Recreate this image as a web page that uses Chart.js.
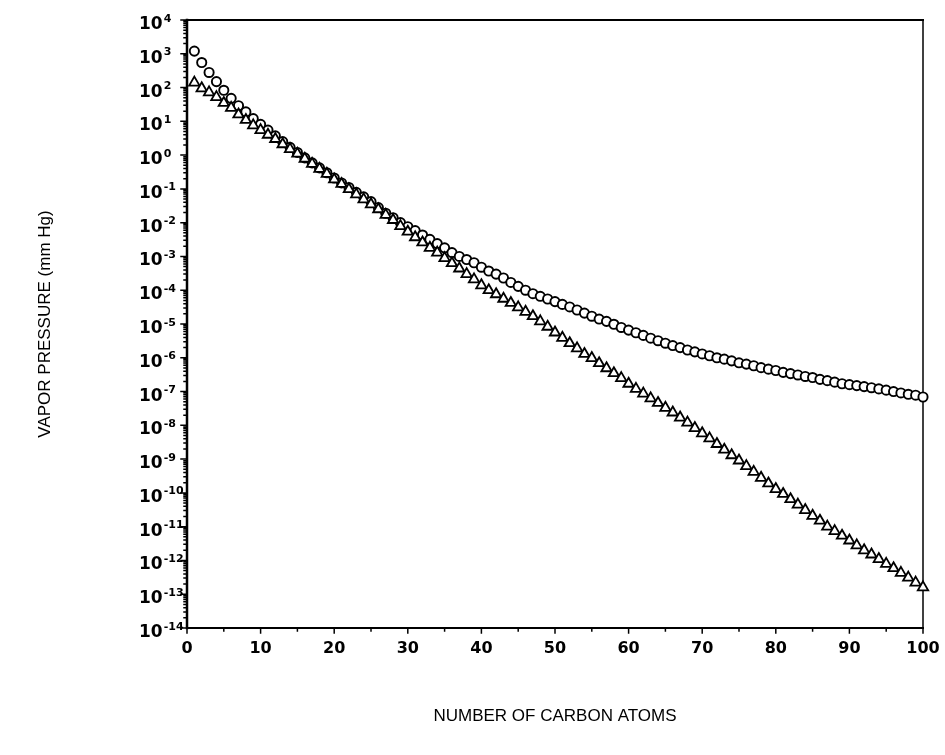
<!DOCTYPE html>
<html>
<head>
<meta charset="utf-8">
<script src="https://cdn.jsdelivr.net/npm/chart.js@4.4.1/dist/chart.umd.min.js"></script>
<style>
    html, body { margin: 0; padding: 0; background: #fff; }
    #wrap { width: 945px; height: 755px; }
</style>
</head>
<body>
<div id="wrap"><canvas id="vaporChart" width="945" height="755"></canvas></div>
<script>
// Data
const carbonAtoms = [
    1, 2, 3, 4, 5, 6, 7, 8, 9, 10,
    11, 12, 13, 14, 15, 16, 17, 18, 19, 20,
    21, 22, 23, 24, 25, 26, 27, 28, 29, 30,
    31, 32, 33, 34, 35, 36, 37, 38, 39, 40,
    41, 42, 43, 44, 45, 46, 47, 48, 49, 50,
    51, 52, 53, 54, 55, 56, 57, 58, 59, 60,
    61, 62, 63, 64, 65, 66, 67, 68, 69, 70,
    71, 72, 73, 74, 75, 76, 77, 78, 79, 80,
    81, 82, 83, 84, 85, 86, 87, 88, 89, 90,
    91, 92, 93, 94, 95, 96, 97, 98, 99, 100
];

// open circles
const circleVapor = [
    1.2e3, 5.5e2, 2.8e2, 1.5e2, 8.3e1, 4.8e1, 2.9e1, 1.9e1, 1.2e1, 8.1,
    5.5, 3.7, 2.5, 1.7, 1.2, 8.3e-1, 5.9e-1, 4.2e-1, 3.0e-1, 2.1e-1,
    1.5e-1, 1.1e-1, 7.9e-2, 5.8e-2, 4.2e-2, 2.8e-2, 1.9e-2, 1.4e-2, 1.0e-2, 7.6e-3,
    5.8e-3, 4.3e-3, 3.2e-3, 2.4e-3, 1.8e-3, 1.3e-3, 1.0e-3, 8.1e-4, 6.5e-4, 4.8e-4,
    3.7e-4, 3.0e-4, 2.3e-4, 1.7e-4, 1.3e-4, 1.0e-4, 7.9e-5, 6.6e-5, 5.5e-5, 4.6e-5,
    3.8e-5, 3.2e-5, 2.6e-5, 2.1e-5, 1.7e-5, 1.4e-5, 1.2e-5, 9.8e-6, 7.9e-6, 6.6e-6,
    5.5e-6, 4.6e-6, 3.8e-6, 3.2e-6, 2.7e-6, 2.3e-6, 2.0e-6, 1.7e-6, 1.5e-6, 1.3e-6,
    1.15e-6, 1.0e-6, 9.1e-7, 8.1e-7, 7.1e-7, 6.5e-7, 5.8e-7, 5.1e-7, 4.6e-7, 4.2e-7,
    3.7e-7, 3.4e-7, 3.1e-7, 2.8e-7, 2.6e-7, 2.3e-7, 2.1e-7, 1.9e-7, 1.7e-7, 1.6e-7,
    1.5e-7, 1.4e-7, 1.3e-7, 1.2e-7, 1.1e-7, 1.0e-7, 9.1e-8, 8.3e-8, 7.8e-8, 6.9e-8
];

// open triangles
const triangleVapor = [
    1.4e2, 9.5e1, 7.2e1, 5.2e1, 3.5e1, 2.5e1, 1.6e1, 1.1e1, 7.6, 5.5,
    4.0, 3.0, 2.1, 1.5, 1.1, 7.8e-1, 5.5e-1, 3.9e-1, 2.8e-1, 1.9e-1,
    1.4e-1, 9.8e-2, 6.9e-2, 4.9e-2, 3.5e-2, 2.5e-2, 1.7e-2, 1.2e-2, 7.9e-3, 5.4e-3,
    3.7e-3, 2.6e-3, 1.8e-3, 1.3e-3, 8.9e-4, 6.3e-4, 4.4e-4, 3.0e-4, 2.1e-4, 1.4e-4,
    1.0e-4, 7.6e-5, 5.6e-5, 4.2e-5, 3.1e-5, 2.3e-5, 1.7e-5, 1.2e-5, 8.3e-6, 5.6e-6,
    3.9e-6, 2.7e-6, 1.9e-6, 1.3e-6, 9.8e-7, 6.9e-7, 4.9e-7, 3.5e-7, 2.5e-7, 1.7e-7,
    1.2e-7, 8.7e-8, 6.3e-8, 4.6e-8, 3.3e-8, 2.4e-8, 1.7e-8, 1.2e-8, 8.3e-9, 5.8e-9,
    4.1e-9, 2.8e-9, 1.9e-9, 1.3e-9, 9.1e-10, 6.2e-10, 4.2e-10, 2.8e-10, 1.9e-10, 1.3e-10,
    9.3e-11, 6.5e-11, 4.5e-11, 3.1e-11, 2.1e-11, 1.5e-11, 1.0e-11, 7.4e-12, 5.4e-12, 3.9e-12,
    2.8e-12, 2.0e-12, 1.5e-12, 1.1e-12, 7.9e-13, 5.9e-13, 4.3e-13, 3.1e-13, 2.2e-13, 1.6e-13
];

// axis ticks
const xTicks = [0, 10, 20, 30, 40, 50, 60, 70, 80, 90, 100];
const xMinorTicks = [5, 15, 25, 35, 45, 55, 65, 75, 85, 95];
const yExponents = [4, 3, 2, 1, 0, -1, -2, -3, -4, -5, -6, -7, -8, -9, -10, -11, -12, -13, -14];
const yMinorMantissas = [2, 3, 4, 5, 6, 7, 8, 9];

const xTitle = 'NUMBER OF CARBON ATOMS';
const yTitle = 'VAPOR PRESSURE (mm Hg)';

// frame, tick marks and 10^n labels
const axisPlugin = {
    id: 'axisPlugin',
    beforeDatasetsDraw(chart) {
        const { ctx, chartArea: a, scales: { x, y } } = chart;
        ctx.save();
        ctx.strokeStyle = '#000';
        ctx.lineCap = 'square';

        // frame
        ctx.lineWidth = 2.5;
        ctx.beginPath();
        ctx.moveTo(a.left, a.top);
        ctx.lineTo(a.left, a.bottom);
        ctx.stroke();
        ctx.lineWidth = 2;
        ctx.beginPath();
        ctx.moveTo(a.left, a.bottom);
        ctx.lineTo(a.right, a.bottom);
        ctx.moveTo(a.left, a.top);
        ctx.lineTo(a.right, a.top);
        ctx.stroke();
        ctx.lineWidth = 1.5;
        ctx.beginPath();
        ctx.moveTo(a.right, a.top);
        ctx.lineTo(a.right, a.bottom);
        ctx.stroke();

        // y ticks
        ctx.lineWidth = 1.5;
        ctx.beginPath();
        yExponents.forEach(e => {
            const py = y.getPixelForValue(Math.pow(10, e));
            ctx.moveTo(a.left - 6, py);
            ctx.lineTo(a.left, py);
            if (e < 4) {
                yMinorMantissas.forEach(m => {
                    const pm = y.getPixelForValue(m * Math.pow(10, e));
                    ctx.moveTo(a.left - 3, pm);
                    ctx.lineTo(a.left, pm);
                });
            }
        });
        // x ticks
        xTicks.forEach(v => {
            const px = x.getPixelForValue(v);
            ctx.moveTo(px, a.bottom);
            ctx.lineTo(px, a.bottom + 5);
        });
        xMinorTicks.forEach(v => {
            const px = x.getPixelForValue(v);
            ctx.moveTo(px, a.bottom);
            ctx.lineTo(px, a.bottom + 3);
        });
        ctx.stroke();

        // y labels: "10" with a raised exponent
        ctx.fillStyle = '#000';
        ctx.textAlign = 'left';
        ctx.textBaseline = 'alphabetic';
        yExponents.forEach(e => {
            const py = y.getPixelForValue(Math.pow(10, e));
            ctx.font = 'bold 17px "DejaVu Sans"';
            ctx.fillText('10', 139, py + 9);
            const w = ctx.measureText('10').width;
            ctx.font = 'bold 11px "DejaVu Sans"';
            ctx.fillText(String(e), 139 + w + 1, py + 1.5);
        });
        ctx.restore();
    }
};

const ctx = document.getElementById('vaporChart').getContext('2d');
const chart = new Chart(ctx, {
    type: 'scatter',
    data: {
        datasets: [
            {
                label: 'triangles',
                data: carbonAtoms.map((c, i) => ({ x: c, y: triangleVapor[i] })),
                pointStyle: 'triangle',
                pointRadius: 6,
                pointBorderWidth: 1.8,
                pointBorderColor: '#000',
                pointBackgroundColor: '#fff',
                clip: false
            },
            {
                label: 'circles',
                data: carbonAtoms.map((c, i) => ({ x: c, y: circleVapor[i] })),
                pointStyle: 'circle',
                pointRadius: 4.6,
                pointBorderWidth: 1.9,
                pointBorderColor: '#000',
                pointBackgroundColor: '#fff',
                clip: false
            }
        ]
    },
    options: {
        responsive: false,
        animation: false,
        events: [],
        layout: { padding: { top: 20, right: 22, left: 0, bottom: 0 } },
        plugins: {
            legend: { display: false },
            tooltip: { enabled: false }
        },
        scales: {
            x: {
                type: 'linear',
                min: 0,
                max: 100,
                afterBuildTicks: (scale) => {
                    scale.ticks = xTicks.map(v => ({ value: v }));
                },
                afterFit: (scale) => { scale.height = 127; },
                ticks: {
                    color: '#000',
                    autoSkip: false,
                    maxRotation: 0,
                    padding: 3,
                    font: { family: 'DejaVu Sans', weight: 'bold', size: 16 }
                },
                grid: { display: false, drawTicks: true, tickLength: 8 },
                border: { display: false },
                title: {
                    display: true,
                    text: xTitle,
                    color: '#000',
                    font: { family: 'Liberation Sans', size: 17 },
                    padding: { top: 0, bottom: 28 }
                }
            },
            y: {
                type: 'logarithmic',
                min: 1e-14,
                max: 1e4,
                afterBuildTicks: (scale) => {
                    scale.ticks = yExponents.map(e => ({ value: Math.pow(10, e) }));
                },
                afterFit: (scale) => { scale.width = 187; },
                ticks: { display: false },
                grid: { display: false },
                border: { display: false },
                title: {
                    display: true,
                    text: yTitle,
                    color: '#000',
                    font: { family: 'Liberation Sans', size: 17 },
                    padding: { top: 35, bottom: 0 }
                }
            }
        }
    },
    plugins: [axisPlugin]
});
</script>
</body>
</html>
